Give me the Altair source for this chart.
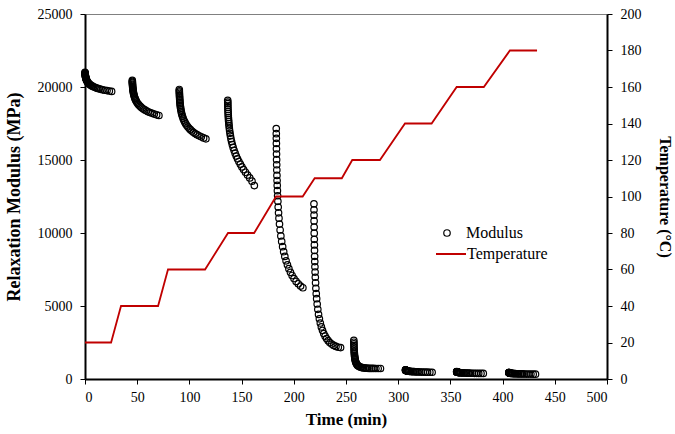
import altair as alt
import pandas as pd

# minutes after the start of each relaxation step
offsets = [0, 0.04, 0.08, 0.13, 0.19, 0.26, 0.34, 0.43, 0.53, 0.65, 0.78, 0.93, 1.1, 1.3,
           1.55, 1.85, 2.2, 2.6, 3.1, 3.7, 4.4, 5.2, 6.1, 7.1, 8.2, 9.4, 10.7, 12.1, 13.6,
           15.2, 17.0, 19.0, 21.1, 23.3, 25.5]

seg_start = [0, 45.3, 90.3, 136.7, 183.2, 219.3, 257.5, 307, 356, 406]

mod_1 = [21000, 20964, 20931, 20895, 20856, 20817, 20776, 20739, 20701, 20661, 20623, 20585,
         20546, 20507, 20464, 20420, 20376, 20333, 20286, 20238, 20190, 20145, 20100, 20058,
         20016, 19977, 19941, 19905, 19872, 19839, 19809, 19779, 19752, 19725, 19700]
mod_2 = [20450, 20383, 20323, 20256, 20184, 20112, 20037, 19968, 19898, 19824, 19754, 19684,
         19612, 19540, 19461, 19380, 19298, 19219, 19132, 19044, 18955, 18871, 18789, 18710,
         18633, 18561, 18494, 18429, 18367, 18307, 18252, 18196, 18146, 18096, 18050]
mod_3 = [19830, 19735, 19651, 19556, 19455, 19353, 19249, 19151, 19053, 18948, 18850, 18752,
         18650, 18549, 18437, 18323, 18208, 18096, 17974, 17849, 17724, 17606, 17491, 17380,
         17271, 17170, 17075, 16984, 16896, 16812, 16734, 16656, 16585, 16514, 16450]
mod_4 = [19090, 18967, 18856, 18734, 18594, 18459, 18319, 18185, 18050, 17904, 17764, 17630,
         17484, 17338, 17169, 16999, 16824, 16655, 16462, 16263, 16059, 15860, 15662, 15469,
         15271, 15084, 14897, 14716, 14529, 14342, 14161, 13968, 13770, 13548, 13250]
mod_5 = [17150, 16801, 16485, 16136, 15766, 15406, 15025, 14676, 14316, 13945, 13597, 13259,
         12899, 12550, 12169, 11776, 11384, 11013, 10610, 10207, 9803, 9422, 9062, 8724,
         8397, 8092, 7820, 7558, 7307, 7089, 6882, 6686, 6523, 6364, 6250]
mod_6 = [12000, 11586, 11222, 10828, 10404, 9991, 9567, 9183, 8809, 8405, 8040, 7686,
         7321, 6967, 6592, 6208, 5844, 5499, 5135, 4770, 4425, 4120, 3834, 3568,
         3332, 3115, 2934, 2769, 2623, 2495, 2389, 2299, 2229, 2176, 2150]
mod_7 = [2650, 2517, 2405, 2283, 2158, 2040, 1924, 1822, 1724, 1625, 1540, 1459,
         1380, 1307, 1231, 1160, 1096, 1038, 984, 932, 888, 852, 822, 797,
         776, 760, 748, 739, 732, 727, 724, 722, 721, 720, 720]
mod_8 = [620, 616, 612, 607, 602, 597, 592, 588, 583, 578, 574, 569, 564, 559, 554, 549,
         543, 538, 532, 526, 520, 515, 509, 504, 499, 494, 490, 485, 481, 477, 473, 470,
         466, 463, 460]
mod_9 = [500, 497, 494, 490, 487, 483, 479, 476, 472, 469, 465, 462, 458, 455, 451, 446,
         442, 438, 434, 430, 425, 421, 417, 413, 409, 406, 402, 399, 396, 393, 390, 387,
         385, 382, 380]
mod_10 = [440, 437, 434, 431, 428, 424, 421, 418, 415, 411, 408, 405, 402, 398, 395, 391,
          387, 384, 380, 376, 371, 368, 364, 360, 357, 353, 350, 347, 345, 342, 339, 337,
          334, 332, 330]

temp_time = [0, 25, 34.5, 70, 79.5, 115, 137, 162, 183, 208.5, 220, 246, 256, 282.5,
             306.5, 332, 356, 382, 407, 433]
temp_value = [20, 20, 40, 40, 60, 60, 80, 80, 100, 100, 110, 110, 120, 120,
              140, 140, 160, 160, 180, 180]

x_ticks = list(range(0, 501, 50))
mod_ticks = list(range(0, 25001, 5000))
temp_ticks = list(range(0, 201, 20))

segments = [mod_1, mod_2, mod_3, mod_4, mod_5, mod_6, mod_7, mod_8, mod_9, mod_10]
rows = []
for start, vals in zip(seg_start, segments):
    for off, v in zip(offsets, vals):
        rows.append({"time": start + off, "modulus": v, "series": "Modulus"})
mod_df = pd.DataFrame(rows)
temp_df = pd.DataFrame({"time": temp_time, "temp": temp_value,
                        "series": ["Temperature"] * len(temp_time)})

FONT = "Liberation Serif"

axis_style = dict(labelFont=FONT, labelFontSize=14, labelColor="black",
                  titleFont=FONT, titleFontWeight="bold", titleColor="black",
                  format="d")

x_enc = alt.X("time:Q", scale=alt.Scale(domain=[0, 500], nice=False, zero=False),
              axis=alt.Axis(values=x_ticks, title="Time (min)", titlePadding=7,
                            labelPadding=6, titleFontSize=17, **axis_style))

points = alt.Chart(mod_df).mark_point(
    shape="circle", filled=False, size=42, strokeWidth=1.2, color="black", opacity=1
).encode(
    x=x_enc,
    y=alt.Y("modulus:Q", scale=alt.Scale(domain=[0, 25000], nice=False),
            axis=alt.Axis(orient="left", values=mod_ticks, title="Relaxation Modulus (MPa)",
                          titlePadding=14, labelPadding=8, titleFontSize=18, **axis_style)),
    shape=alt.Shape("series:N", scale=alt.Scale(domain=["Modulus"], range=["circle"]),
                    legend=alt.Legend(orient="none", legendX=354, legendY=211, title=None,
                                      labelFont=FONT, labelFontSize=16, labelColor="black",
                                      labelOffset=11, symbolSize=42, symbolStrokeWidth=1.2,
                                      symbolStrokeColor="black", symbolFillColor="white",
                                      padding=0)),
)

line = alt.Chart(temp_df).mark_line(strokeWidth=1.8).encode(
    x=x_enc,
    y=alt.Y("temp:Q", scale=alt.Scale(domain=[0, 200], nice=False),
            axis=alt.Axis(orient="right", values=temp_ticks, title="Temperature (°C)",
                          titlePadding=15, labelPadding=8, titleAngle=90, titleFontSize=16,
                          **axis_style)),
    color=alt.Color("series:N", scale=alt.Scale(domain=["Temperature"], range=["#c00000"]),
                    legend=alt.Legend(orient="none", legendX=350, legendY=224, title=None,
                                      labelFont=FONT, labelFontSize=16, labelColor="black",
                                      labelOffset=0, symbolType="stroke", symbolSize=900,
                                      symbolStrokeWidth=2, padding=0)),
)

chart = alt.layer(points, line).resolve_scale(
    y="independent", color="independent", shape="independent"
).properties(
    width=522, height=365,
    autosize=alt.AutoSizeParams(type="none"),
    padding={"left": 85, "top": 14, "right": 68, "bottom": 55},
    background="white",
).configure_view(
    stroke="#808080", strokeWidth=1
).configure_axis(
    grid=False, domainColor="black", domainWidth=2, tickColor="black", tickSize=5,
    tickWidth=1
)

chart.save("out.html", embed_options={"renderer": "svg", "actions": False})
